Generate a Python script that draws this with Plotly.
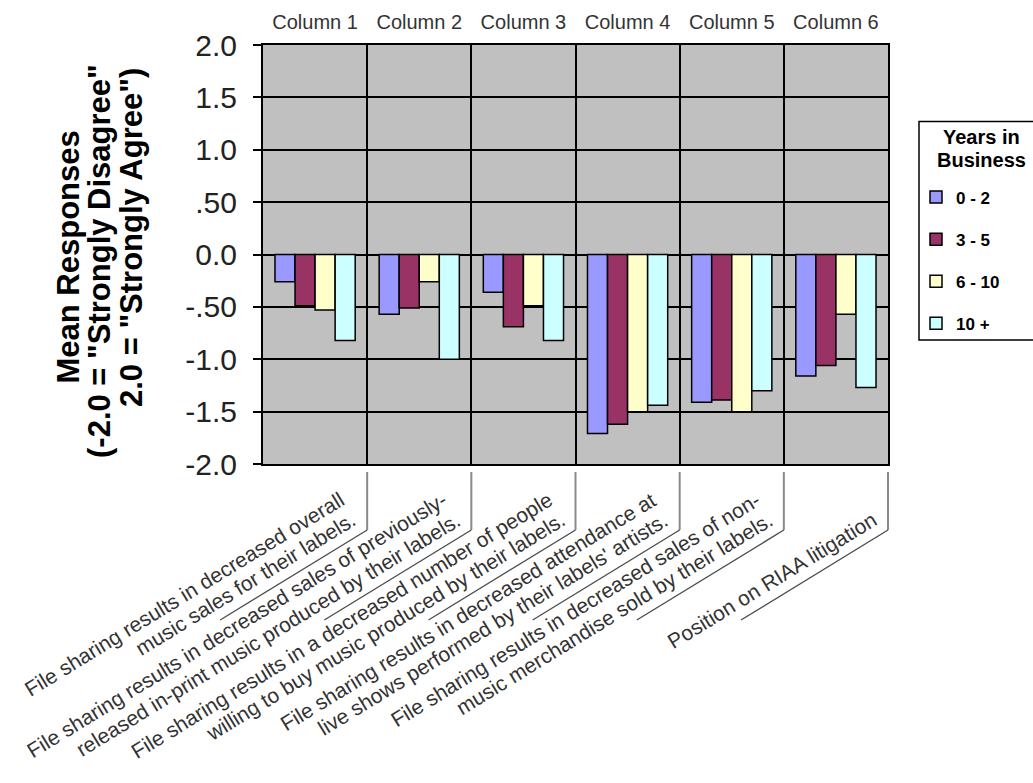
import math
import plotly.graph_objects as go

# ---- data -------------------------------------------------------------
columns = ["Column 1", "Column 2", "Column 3", "Column 4", "Column 5", "Column 6"]

statements = [
    ["File sharing results in decreased overall",
     "music sales for their labels."],
    ["File sharing results in decreased sales of previously-",
     "released in-print music produced by their labels."],
    ["File sharing results in a decreased number of people",
     "willing to buy music produced by their labels."],
    ["File sharing results in decreased attendance at",
     "live shows performed by their labels' artists."],
    ["File sharing results in decreased sales of non-",
     "music merchandise sold by their labels."],
    ["Position on RIAA litigation"],
]

year_groups = ["0 - 2", "3 - 5", "6 - 10", "10 +"]
mean_0_2 = [-0.26, -0.57, -0.36, -1.71, -1.41, -1.16]
mean_3_5 = [-0.49, -0.51, -0.69, -1.62, -1.39, -1.06]
mean_6_10 = [-0.53, -0.26, -0.49, -1.50, -1.50, -0.57]
mean_10_plus = [-0.82, -1.00, -0.82, -1.44, -1.30, -1.27]

bar_colors = ["#9999FF", "#993366", "#FFFFCC", "#CCFFFF"]

y_tick_values = [-2.0, -1.5, -1.0, -0.5, 0.0, 0.5, 1.0, 1.5, 2.0]
y_tick_text = ["-2.0", "-1.5", "-1.0", "-.50", "0.0", ".50", "1.0", "1.5", "2.0"]

y_title_lines = ["Mean Responses",
                 '(-2.0 = "Strongly Disagree"',
                 '2.0 = "Strongly Agree")']
legend_title_lines = ["Years in", "Business"]

# ---- page geometry ----------------------------------------------------
FIG_W, FIG_H = 1033, 783
M_L, M_R, M_T, M_B = 263, 145, 45, 319
PLOT_W = FIG_W - M_L - M_R
PLOT_H = FIG_H - M_T - M_B
FONT = "Arial, 'Liberation Sans', sans-serif"


def px_x(px):
    """Horizontal pixel -> paper coordinate."""
    return (px - M_L) / PLOT_W


def px_y(py):
    """Vertical pixel (from top) -> paper coordinate."""
    return (FIG_H - M_B - py) / PLOT_H


# Arial advance widths (1/1000 em), used to lay out the slanted labels
_ARIAL = {}
for chars, w in [(" ,.:;ftI", 278), ("ijl", 222), ("-r()", 333), ("'", 191),
                 ("cksvxyzJ", 500), ("abdeghnopqu0123456789L", 556),
                 ("=+", 584), ("FTZ", 611), ("ABEKPSVXY", 667),
                 ("CDHNRUw", 722), ("GOQ", 778), ("mM", 833), ("W", 944),
                 ('"', 355)]:
    for ch in chars:
        _ARIAL[ch] = w


def text_width(s, size):
    return sum(_ARIAL.get(ch, 556) for ch in s) * size / 1000.0


fig = go.Figure()

for name, values, color in zip(year_groups,
                               [mean_0_2, mean_3_5, mean_6_10, mean_10_plus],
                               bar_colors):
    fig.add_trace(go.Bar(
        x=columns, y=values, name=name, legendgroup=name,
        marker=dict(color=color, line=dict(color="black", width=1.5)),
    ))

annotations = []
shapes = []

# ---- y-axis title, one line per annotation ----------------------------
for text, cx, cy in zip(y_title_lines, [68, 99.5, 131], [257.5, 261.5, 238]):
    annotations.append(dict(
        text=text, x=px_x(cx), y=px_y(cy), xref="paper", yref="paper",
        xanchor="center", yanchor="middle", textangle=-90, showarrow=False,
        font=dict(family=FONT, size=31, color="black", weight="bold"),
    ))

# ---- slanted category statements with leader lines -------------------
n_cat = len(columns)
cat_w = PLOT_W / n_cat
angle = 31.5
th = math.radians(angle)
ux, uy = math.cos(th), -math.sin(th)      # along the text baseline
nx, ny = -math.sin(th), -math.cos(th)     # towards the top of the text
lab_size = 21
line_step = 24
corner_y = 530
diag_dx, diag_dy = -147, 90

for i, lines in enumerate(statements):
    kx = M_L + (i + 1) * cat_w
    # vertical tick down from the column boundary, then the slanted rule
    shapes.append(dict(type="line", xref="paper", yref="paper",
                       x0=px_x(kx), x1=px_x(kx), y0=px_y(472), y1=px_y(corner_y),
                       line=dict(color="#8a8a8a", width=2)))
    shapes.append(dict(type="line", xref="paper", yref="paper",
                       x0=px_x(kx), x1=px_x(kx + diag_dx),
                       y0=px_y(corner_y), y1=px_y(corner_y + diag_dy),
                       line=dict(color="#4a4a4a", width=1.3)))
    for j, line in enumerate(reversed(lines)):
        off = 10 + line_step * j
        ex = kx - 5 * ux + off * nx
        ey = corner_y - 5 * uy + off * ny
        w = text_width(line, lab_size)
        cx = ex - w / 2 * ux + 0.35 * lab_size * nx
        cy = ey - w / 2 * uy + 0.35 * lab_size * ny
        annotations.append(dict(
            text=line, x=px_x(cx), y=px_y(cy), xref="paper", yref="paper",
            xanchor="center", yanchor="middle", textangle=-angle,
            showarrow=False, borderpad=0,
            font=dict(family=FONT, size=lab_size, color="#333333"),
        ))

# ---- legend frame and title ------------------------------------------
shapes.append(dict(type="rect", xref="paper", yref="paper",
                   x0=px_x(919), x1=px_x(1050), y0=px_y(340), y1=px_y(121.5),
                   line=dict(color="black", width=1.5),
                   fillcolor="rgba(0,0,0,0)"))
for text, cy in zip(legend_title_lines, [137, 160]):
    annotations.append(dict(
        text=text, x=px_x(981), y=px_y(cy), xref="paper", yref="paper",
        xanchor="center", yanchor="middle", showarrow=False, borderpad=0,
        font=dict(family=FONT, size=20, color="black", weight="bold"),
    ))

fig.update_layout(
    width=FIG_W, height=FIG_H,
    margin=dict(l=M_L, r=M_R, t=M_T, b=M_B, pad=0, autoexpand=False),
    paper_bgcolor="white", plot_bgcolor="#C0C0C0",
    barmode="group", bargap=0.23, bargroupgap=0,
    font=dict(family=FONT),
    xaxis=dict(
        type="category", side="top", tickson="boundaries", ticks="",
        ticklen=0, showgrid=True, gridcolor="black", gridwidth=1.5,
        showline=True, linecolor="black", linewidth=2, mirror=True,
        tickfont=dict(family=FONT, size=20, color="#333333"),
        ticklabelstandoff=6, fixedrange=True,
    ),
    yaxis=dict(
        range=[-2, 2], tickvals=y_tick_values, ticktext=y_tick_text,
        ticks="outside", ticklen=8, tickwidth=1.5, tickcolor="black",
        showgrid=True, gridcolor="black", gridwidth=1.5, zeroline=False,
        showline=True, linecolor="black", linewidth=2, mirror=True,
        tickfont=dict(family=FONT, size=30, color="#222222"),
        ticklabelstandoff=10, fixedrange=True,
    ),
    showlegend=True,
    legend=dict(
        x=px_x(916), y=px_y(179.5), xanchor="left", yanchor="top",
        bgcolor="rgba(0,0,0,0)", borderwidth=0, tracegroupgap=17,
        traceorder="grouped",
        font=dict(family=FONT, size=17, color="black", weight="bold"),
    ),
    annotations=annotations,
    shapes=shapes,
)

fig.write_html("out.html")
